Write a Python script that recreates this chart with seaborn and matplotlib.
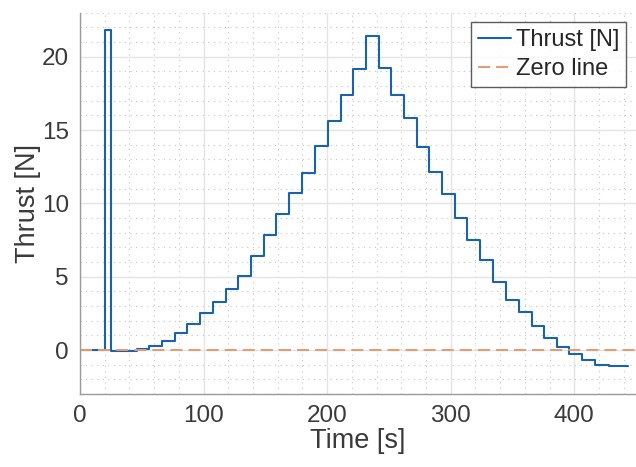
import matplotlib
matplotlib.use("Agg")
import matplotlib.pyplot as plt
import seaborn as sns
import pandas as pd
from matplotlib.ticker import MultipleLocator

# Step start times [s] and the thrust level held from that time [N]
step_time = [0, 20.5, 25.4, 40, 46, 56, 66, 77, 87, 97, 108, 118, 128, 138.5,
             149, 158.7, 169.5, 179.5, 190, 200.5, 211, 221, 231.6, 241.6,
             251.8, 262, 272.6, 282.6, 293, 303.4, 313.6, 323.9, 334.6, 345,
             355, 365.7, 375.7, 386, 396, 406.5, 417, 427.8, 443.7]
step_thrust = [0.0, 21.8, -0.05, -0.1, 0.1, 0.27, 0.64, 1.18, 1.77, 2.5, 3.3,
               4.15, 5.07, 6.4, 7.84, 9.3, 10.7, 12.1, 13.9, 15.6, 17.4, 19.15,
               21.4, 19.2, 17.4, 15.8, 13.85, 12.15, 10.63, 9.02, 7.5, 6.15,
               4.65, 3.4, 2.57, 1.64, 0.84, 0.18, -0.27, -0.68, -1.02, -1.1, -1.1]

zero_time = [0, 450]
zero_val = [0, 0]

df = pd.DataFrame({"time": step_time, "thrust": step_thrust})
zdf = pd.DataFrame({"time": zero_time, "thrust": zero_val})

sns.set_style("white")
plt.rcParams["font.family"] = ["Liberation Sans", "DejaVu Sans"]

fig = plt.figure(figsize=(6.36, 4.67), dpi=100)
ax = fig.add_axes([80 / 636, 1 - 394 / 467, (636 - 80) / 636, (394 - 12.7) / 467])

sns.lineplot(data=df, x="time", y="thrust", ax=ax, color="#1862b0", lw=1.5,
             drawstyle="steps-post", estimator=None, sort=False, label="Thrust [N]")
sns.lineplot(data=zdf, x="time", y="thrust", ax=ax, color="#e8996b", lw=1.4,
             linestyle=(0, (6.2, 3.1)), estimator=None, sort=False, label="Zero line")

ax.set_xlim(0, 450)
ax.set_ylim(-3, 23)
ax.xaxis.set_major_locator(MultipleLocator(100))
ax.xaxis.set_minor_locator(MultipleLocator(20))
ax.yaxis.set_major_locator(MultipleLocator(5))
ax.yaxis.set_minor_locator(MultipleLocator(1))

ax.grid(which="major", color="#e4e4e4", lw=1, ls="-")
ax.grid(which="minor", color="#c4c4c4", lw=0.8, ls=(0, (1, 4)))
ax.set_axisbelow(True)

for s in ["top", "right"]:
    ax.spines[s].set_visible(False)
for s in ["left", "bottom"]:
    ax.spines[s].set_color("#9a9a9a")
    ax.spines[s].set_linewidth(1.0)

ax.tick_params(which="major", direction="in", length=4, width=1, color="#555555",
               labelsize=17.5, labelcolor="#3a3a3a", pad=8)
ax.tick_params(which="minor", length=0)

ax.set_xlabel("Time [s]", fontsize=19.5, color="#3a3a3a", labelpad=1)
ax.set_ylabel("Thrust [N]", fontsize=19.5, color="#3a3a3a", labelpad=0.5)

leg = ax.legend(loc="upper right", fontsize=17, frameon=True, fancybox=False,
                handlelength=1.4, handletextpad=0.2, borderpad=0.3,
                labelspacing=0.3, borderaxespad=0, bbox_to_anchor=(0.982, 0.976))
leg.get_frame().set_edgecolor("#333333")
leg.get_frame().set_linewidth(1.0)

fig.savefig("out.png", dpi=100)
